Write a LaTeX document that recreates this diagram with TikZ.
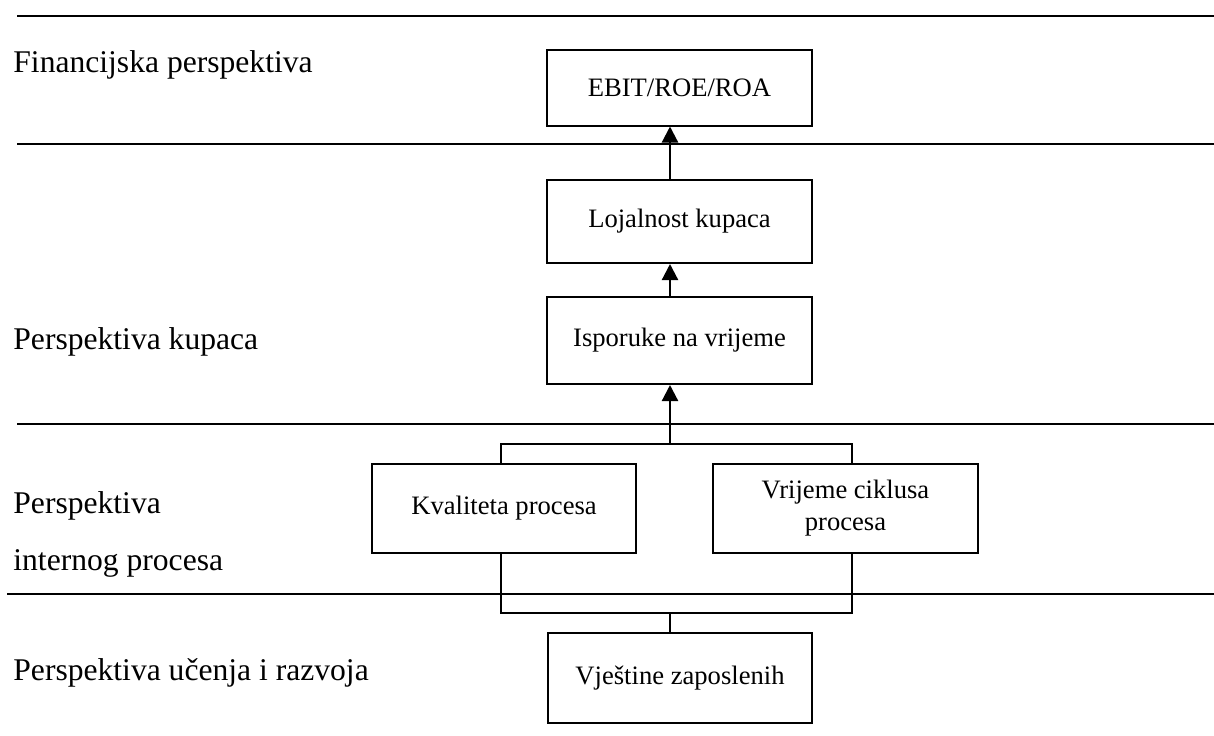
\documentclass[tikz,border=0pt]{standalone}
\usepackage{fontspec}
\setmainfont{Liberation Serif}
\usetikzlibrary{arrows.meta}
\usetikzlibrary{positioning}

\begin{document}
\begin{tikzpicture}[x=0.5pt, y=-0.5pt,
        box/.style = {draw, line width=1pt, inner sep=0, align=center, font=\fontsize{13.3}{16}\selectfont},
        lab/.style = {anchor=base west, inner sep=0, align=left, font=\fontsize{15.8}{28.5}\selectfont},
        rule/.style = {line width=1pt},
        link/.style = {line width=1pt},
        arr/.style = {line width=1.1pt, -{Triangle[width=8pt,length=8pt]}}]

        \useasboundingbox (0,0) rectangle (1214,735);

        % Borders between perspectives
        \draw[rule] (17,16) -- (1214,16);
        \draw[rule] (17,144) -- (1214,144);
        \draw[rule] (17,424) -- (1214,424);
        \draw[rule] (7,594) -- (1214,594);

        % Perspective names
        \node[lab] (finlab) at (13,72) {Financijska perspektiva};
        \node[lab] (kuplab) at (13,349) {Perspektiva kupaca};
        \node[lab] (intlab) at (13,570) {Perspektiva\\internog procesa};
        \node[lab] (uclab) at (13,680) {Perspektiva učenja i razvoja};

        % Boxes
        \node[box, minimum width=132.5pt, minimum height=38pt] (fin) at (679.5,87.5) {EBIT/ROE/ROA};
        \node[box, minimum width=132.5pt, minimum height=41.5pt] (loj) at (679.5,221.5) {Lojalnost kupaca};
        \node[box, minimum width=132.5pt, minimum height=43.5pt] (isp) at (679.5,340.5) {Isporuke na vrijeme};
        \node[box, minimum width=132pt, minimum height=44.5pt] (kva) at (504,508) {Kvaliteta procesa};
        \node[box, minimum width=132.5pt, minimum height=44.5pt] (vri) at (845.5,508) {Vrijeme ciklusa\\procesa};
        \node[box, minimum width=132pt, minimum height=45pt] (vje) at (680,678) {Vještine zaposlenih};

        % Connector points
        \coordinate (stem) at (670,0);
        \coordinate (kx) at (501,0);
        \coordinate (vx) at (852,0);
        \coordinate (upbar) at (670,444);
        \coordinate (lowbar) at (670,613);

        % Arrows up the chain
        \draw[arr] (loj.north -| stem) -- (fin.south -| stem);
        \draw[arr] (isp.north -| stem) -- (loj.south -| stem);
        \draw[arr] (upbar) -- (isp.south -| upbar);
        \draw[link] (kva.north -| kx) |- (upbar) -| (vri.north -| vx);
        \draw[link] (kva.south -| kx) |- (lowbar) -| (vri.south -| vx);
        \draw[link] (vje.north -| lowbar) -- (lowbar);
    \end{tikzpicture}
\end{document}
